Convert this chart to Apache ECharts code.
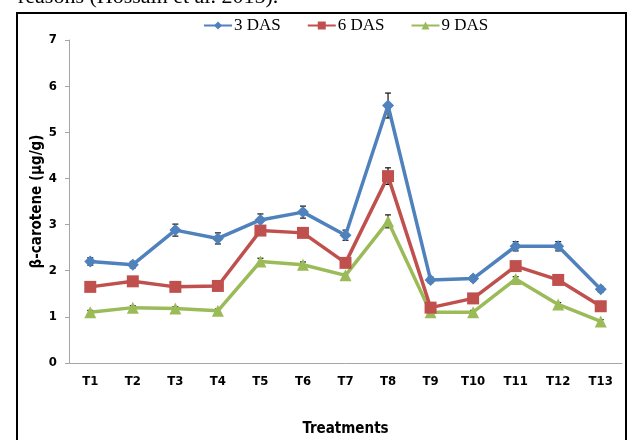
<!DOCTYPE html>
<html>
<head>
<meta charset="utf-8">
<script src="https://cdn.jsdelivr.net/npm/echarts@6/dist/echarts.min.js"></script>
<style>
html,body{margin:0;padding:0;background:#fff;}
#chart{width:631px;height:440px;}
</style>
</head>
<body>
<div id="chart"></div>
<script>
// 处理 (treatments)
var categories = ['T1','T2','T3','T4','T5','T6','T7','T8','T9','T10','T11','T12','T13'];
var das3 = [2.2, 2.13, 2.88, 2.7, 3.1, 3.27, 2.77, 5.58, 1.8, 1.83, 2.53, 2.53, 1.6];
var das6 = [1.65, 1.77, 1.65, 1.67, 2.87, 2.82, 2.17, 4.05, 1.2, 1.4, 2.1, 1.8, 1.23];
var das9 = [1.1, 1.2, 1.18, 1.13, 2.2, 2.13, 1.9, 3.07, 1.1, 1.1, 1.82, 1.27, 0.9];
// 误差
var err3 = [0.08, 0.07, 0.13, 0.12, 0.13, 0.13, 0.11, 0.27, 0.06, 0.06, 0.1, 0.1, 0.06];
var err6 = [0.04, 0.05, 0.04, 0.04, 0.1, 0.08, 0.05, 0.18, 0.05, 0.04, 0.06, 0.05, 0.04];
var err9 = [0.04, 0.04, 0.04, 0.04, 0.07, 0.06, 0.04, 0.14, 0.04, 0.04, 0.05, 0.04, 0.04];
var yTicks = [0, 1, 2, 3, 4, 5, 6, 7];

var blue = '#4F81BD', red = '#C0504D', green = '#9BBB59';
var labelFont = '"DejaVu Sans Condensed","Liberation Sans Narrow",sans-serif';

function errData(vals, errs) {
  return vals.map(function (v, i) { return [i, v - errs[i], v + errs[i]]; });
}
function errSeries(vals, errs) {
  return {
    type: 'custom',
    data: errData(vals, errs),
    z: 1,
    silent: true,
    renderItem: function (params, api) {
      var lo = api.coord([api.value(0), api.value(1)]);
      var hi = api.coord([api.value(0), api.value(2)]);
      var w = 3;
      var st = { stroke: '#111', lineWidth: 1.2 };
      return {
        type: 'group',
        children: [
          { type: 'line', shape: { x1: hi[0], y1: hi[1], x2: lo[0], y2: lo[1] }, style: st },
          { type: 'line', shape: { x1: hi[0] - w, y1: hi[1], x2: hi[0] + w, y2: hi[1] }, style: st },
          { type: 'line', shape: { x1: lo[0] - w, y1: lo[1], x2: lo[0] + w, y2: lo[1] }, style: st }
        ]
      };
    }
  };
}

var chart = echarts.init(document.getElementById('chart'));
var option = {
  animation: false,
  backgroundColor: '#fff',
  graphic: [
    {
      type: 'text', left: 18, top: -14,
      style: { text: 'reasons (Hossain et al. 2015).', font: '22px "Liberation Serif", serif', fill: '#000' }
    },
    {
      type: 'rect', shape: { x: 17, y: 13, width: 609, height: 440 },
      style: { fill: 'none', stroke: '#000', lineWidth: 2 }
    }
  ],
  legend: {
    top: 12,
    left: 198,
    itemGap: 26,
    itemWidth: 28,
    itemHeight: 10,
    textStyle: { fontFamily: '"Liberation Serif", serif', fontSize: 17, color: '#000', padding: [0, 0, 0, -3] },
    data: ['3 DAS', '6 DAS', '9 DAS']
  },
  grid: { left: 69, right: 9, top: 40, bottom: 77, containLabel: false, outerBoundsMode: 'none' },
  xAxis: {
    type: 'category',
    data: categories,
    name: 'Treatments',
    nameLocation: 'middle',
    nameGap: 59,
    nameMoveOverlap: false,
    nameTextStyle: { fontFamily: labelFont, fontWeight: 'bold', fontSize: 15, color: '#000' },
    axisLine: { lineStyle: { color: '#A6A6A6', width: 1 } },
    axisTick: { length: 4, lineStyle: { color: '#A6A6A6' } },
    axisLabel: { margin: 12, fontFamily: labelFont, fontWeight: 'bold', fontSize: 13, color: '#000' }
  },
  yAxis: {
    type: 'value',
    min: 0, max: 7, interval: 1,
    name: 'β-carotene (µg/g)',
    nameLocation: 'middle',
    nameGap: 24,
    nameMoveOverlap: false,
    nameTextStyle: { fontFamily: labelFont, fontWeight: 'bold', fontSize: 15, color: '#000' },
    axisLine: { show: true, lineStyle: { color: '#A6A6A6', width: 1 } },
    axisTick: { show: true, length: 4, lineStyle: { color: '#A6A6A6' } },
    splitLine: { show: false },
    axisLabel: { margin: 12, fontFamily: labelFont, fontWeight: 'bold', fontSize: 13, color: '#000',
      formatter: function (v) { return yTicks.indexOf(v) >= 0 ? String(v) : ''; } }
  },
  series: [
    errSeries(das3, err3),
    errSeries(das6, err6),
    errSeries(das9, err9),
    {
      name: '3 DAS', type: 'line', data: das3, z: 4,
      symbol: 'diamond', symbolSize: 12,
      itemStyle: { color: blue },
      lineStyle: { color: blue, width: 3.5 }
    },
    {
      name: '6 DAS', type: 'line', data: das6, z: 3,
      symbol: 'rect', symbolSize: 12,
      itemStyle: { color: red },
      lineStyle: { color: red, width: 3.5 }
    },
    {
      name: '9 DAS', type: 'line', data: das9, z: 2,
      symbol: 'triangle', symbolSize: 12,
      itemStyle: { color: green },
      lineStyle: { color: green, width: 3.5 }
    }
  ]
};
chart.setOption(option);
</script>
</body>
</html>
